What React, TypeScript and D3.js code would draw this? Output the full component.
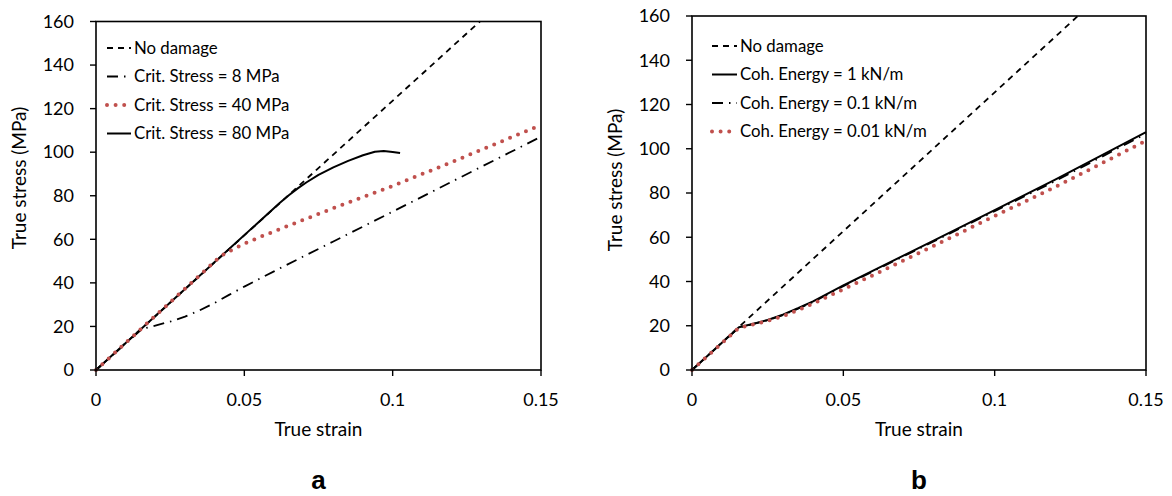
import React from "react";
import * as d3 from "d3";

type Pt = [number, number];

// Panel a data (true strain, true stress MPa)
const noDamageA: Pt[] = [[0, 0], [0.1294, 160]];
const crit8: Pt[] = [[0, 0], [0.0155, 18.8], [0.02, 20.4], [0.025, 22.2], [0.03, 24.5], [0.035, 27.4], [0.04, 30.8], [0.045, 34.6], [0.05, 38.3], [0.06, 45.3], [0.07, 52.2], [0.08, 59], [0.1, 72.7], [0.12, 86.5], [0.15, 107.1]];
const crit40: Pt[] = [[0, 0], [0.041, 51], [0.043, 53], [0.046, 55.3], [0.05, 58], [0.055, 60.9], [0.06, 63.6], [0.07, 69], [0.08, 74.3], [0.09, 79.4], [0.1, 84.5], [0.12, 95.5], [0.15, 112.5]];
const crit80: Pt[] = [[0, 0], [0.062, 76.8], [0.065, 80.2], [0.068, 83.4], [0.071, 86.2], [0.075, 89.6], [0.08, 93], [0.085, 96], [0.09, 98.6], [0.094, 100.2], [0.097, 100.5], [0.1, 100.1], [0.1025, 99.6]];

// Panel b data
const noDamageB: Pt[] = [[0, 0], [0.1275, 160]];
const coh1: Pt[] = [[0, 0], [0.0155, 19.3], [0.02, 20.8], [0.025, 22.6], [0.03, 25], [0.035, 27.9], [0.04, 31], [0.05, 38.2], [0.06, 45], [0.08, 58.6], [0.1, 72.3], [0.12, 86], [0.15, 107.5]];
const coh01: Pt[] = [[0, 0], [0.0155, 19.2], [0.02, 20.7], [0.025, 22.5], [0.03, 24.8], [0.035, 27.7], [0.04, 30.7], [0.05, 37.9], [0.06, 44.7], [0.08, 58.2], [0.1, 71.8], [0.12, 85.4], [0.15, 106.8]];
const coh001: Pt[] = [[0, 0], [0.0155, 19], [0.02, 20.5], [0.025, 22.2], [0.03, 24.3], [0.035, 27], [0.04, 30], [0.05, 36.5], [0.06, 43], [0.08, 56.2], [0.1, 69.6], [0.12, 82.7], [0.15, 103.6]];

const xTicks = [0, 0.05, 0.1, 0.15];
const xTickLabels = ["0", "0.05", "0.1", "0.15"];
const yTicks = [0, 20, 40, 60, 80, 100, 120, 140, 160];

const legendA = ["No damage", "Crit. Stress = 8 MPa", "Crit. Stress = 40 MPa", "Crit. Stress = 80 MPa"];
const legendB = ["No damage", "Coh. Energy = 1 kN/m", "Coh. Energy = 0.1 kN/m", "Coh. Energy = 0.01 kN/m"];

const RED = "#C0504D";
const FONT = "Lato, 'Open Sans', sans-serif";

type Style = { stroke: string; width: number; dash?: string; cap?: "round" | "butt" };
const S_DASH: Style = { stroke: "#000", width: 1.8, dash: "6 5" };
const S_DASHDOT: Style = { stroke: "#000", width: 1.8, dash: "11 6 1.5 6" };
const S_DOT: Style = { stroke: RED, width: 4, dash: "0 8.6", cap: "round" };
const S_SOLID: Style = { stroke: "#000", width: 2 };

type Series = { data: Pt[]; style: Style };

function Panel(props: {
  left: number; right: number; top: number; bottom: number; yTitleY: number;
  series: Series[]; legend: string[]; legendStyles: Style[];
  legendX: number; legendY: number; legendStep: number; sampleW: number;
  letter: string;
}) {
  const { left, right, top, bottom, yTitleY, series, legend, legendStyles, legendX, legendY, legendStep, sampleW, letter } = props;
  const x = d3.scaleLinear().domain([0, 0.15]).range([left, right]);
  const y = d3.scaleLinear().domain([0, 160]).range([bottom, top]);
  const line = d3.line<Pt>().x((d) => x(d[0])).y((d) => y(d[1]));
  const cx = (left + right) / 2;
  return (
    <g>
      {series.map((s, i) => (
        <path key={i} d={line(s.data) || ""} fill="none" stroke={s.style.stroke} strokeWidth={s.style.width}
          strokeDasharray={s.style.dash} strokeLinecap={s.style.cap || "butt"} strokeLinejoin="round" />
      ))}
      <rect x={left} y={top} width={right - left} height={bottom - top} fill="none" stroke="#000" strokeWidth={1.6} />
      {yTicks.map((t) => (
        <g key={t}>
          <line x1={left - 6} x2={left} y1={y(t)} y2={y(t)} stroke="#000" strokeWidth={1.4} />
          <text x={left - 22} y={y(t)} dy="0.35em" textAnchor="end" fontFamily={FONT} fontSize={18} fill="#000">{t}</text>
        </g>
      ))}
      {xTicks.map((t, i) => (
        <g key={t}>
          <line x1={x(t)} x2={x(t)} y1={bottom} y2={bottom + 6} stroke="#000" strokeWidth={1.4} />
          <text x={x(t)} y={bottom + 36} textAnchor="middle" fontFamily={FONT} fontSize={18} fill="#000">{xTickLabels[i]}</text>
        </g>
      ))}
      <text x={cx} y={bottom + 66} textAnchor="middle" fontFamily={FONT} fontSize={19} fill="#000">True strain</text>
      <text transform={`translate(${left - 70},${yTitleY}) rotate(-90)`} textAnchor="middle" fontFamily={FONT} fontSize={19} fill="#000">True stress (MPa)</text>
      {legend.map((label, i) => {
        const st = legendStyles[i];
        const ly = legendY + i * legendStep;
        return (
          <g key={label}>
            <line x1={legendX} x2={legendX + sampleW} y1={ly} y2={ly} stroke={st.stroke} strokeWidth={st.width}
              strokeDasharray={st.dash} strokeLinecap={st.cap || "butt"} />
            <text x={legendX + sampleW + 3} y={ly} dy="0.35em" fontFamily={FONT} fontSize={16.8} fill="#000">{label}</text>
          </g>
        );
      })}
      <text x={cx} y={489} textAnchor="middle" fontFamily="Arial, 'Liberation Sans', sans-serif" fontWeight="bold" fontSize={26} fill="#000">{letter}</text>
    </g>
  );
}

export default function App() {
  return (
    <svg width={1172} height={496} style={{ position: "absolute", left: 0, top: 0, background: "#fff" }}>
      <rect width={1172} height={496} fill="#fff" />
      <Panel left={96} right={541} top={21.5} bottom={370} yTitleY={178}
        series={[
          { data: crit8, style: S_DASHDOT },
          { data: noDamageA, style: S_DASH },
          { data: crit80, style: S_SOLID },
          { data: crit40, style: S_DOT },
        ]}
        legend={legendA} legendStyles={[S_DASH, S_DASHDOT, S_DOT, S_SOLID]}
        legendX={107} legendY={48} legendStep={28.5} sampleW={24} letter="a" />
      <Panel left={692} right={1146} top={16} bottom={370} yTitleY={180}
        series={[
          { data: coh01, style: S_DASHDOT },
          { data: noDamageB, style: S_DASH },
          { data: coh1, style: S_SOLID },
          { data: coh001, style: S_DOT },
        ]}
        legend={legendB} legendStyles={[S_DASH, S_SOLID, S_DASHDOT, S_DOT]}
        legendX={712} legendY={46} legendStep={28.5} sampleW={25} letter="b" />
    </svg>
  );
}
